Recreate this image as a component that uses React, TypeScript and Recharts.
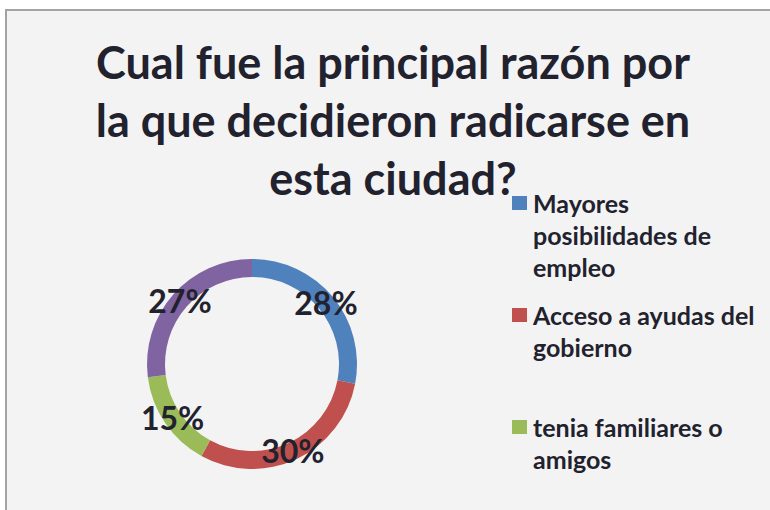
import React from 'react';
import { PieChart, Pie, Cell, Legend } from 'recharts';

const TITLE_LINES = ['Cual fue la principal razón por', 'la que decidieron radicarse en', 'esta ciudad?'];
// legend text keeps the line breaks of the original
const REASONS = [
  'Mayores\nposibilidades de\nempleo',
  'Acceso a ayudas del\ngobierno',
  'tenia familiares o\namigos',
  'Otros',
];
const SHARES = [28, 30, 15, 27];
const COLORS = ['#4f81bd', '#c0504d', '#9bbb59', '#8064a2'];
// only the first three legend entries fit in the visible area
const LEGEND_VISIBLE = 3;

const data = REASONS.map((name, i) => ({ name, value: SHARES[i] }));

const FONT = 'Lato, "Open Sans", sans-serif';
const TEXT = '#22222e';
const RAD = Math.PI / 180;

function renderLabel(props: any) {
  const { cx, cy, midAngle, innerRadius, outerRadius, percent } = props;
  const r = (innerRadius + outerRadius) / 2;
  const x = cx + r * Math.cos(-midAngle * RAD);
  const y = cy + r * Math.sin(-midAngle * RAD);
  return (
    <text
      x={x}
      y={y}
      textAnchor="middle"
      dominantBaseline="central"
      fill={TEXT}
      fontFamily={FONT}
      fontWeight={700}
      fontSize={32}
    >
      {`${Math.round(percent * 100)}%`}
    </text>
  );
}

function LegendContent() {
  return (
    <div style={{ fontFamily: FONT, fontWeight: 700, fontSize: 25, lineHeight: '32px', color: TEXT }}>
      {data.slice(0, LEGEND_VISIBLE).map((d, i) => (
        <div key={d.name} style={{ position: 'relative', height: 112, paddingLeft: 23 }}>
          <span
            style={{
              position: 'absolute',
              left: 2,
              top: 9,
              width: 15,
              height: 14,
              background: COLORS[i],
            }}
          />
          <div style={{ whiteSpace: 'pre-line' }}>{d.name}</div>
        </div>
      ))}
    </div>
  );
}

export default function App() {
  return (
    <div
      style={{
        position: 'absolute',
        left: 0,
        top: 0,
        width: 770,
        height: 510,
        background: '#fff',
        overflow: 'hidden',
      }}
    >
      <div
        style={{
          position: 'absolute',
          left: 5,
          top: 9,
          width: 800,
          height: 540,
          border: '2px solid #a3a3a3',
          background: '#f3f3f3',
        }}
      />
      <div
        style={{
          position: 'absolute',
          left: 0,
          top: 33,
          width: 786,
          textAlign: 'center',
          fontFamily: FONT,
          fontWeight: 700,
          fontSize: 45,
          lineHeight: '58px',
          color: TEXT,
        }}
      >
        {TITLE_LINES.map((l) => (
          <div key={l}>{l}</div>
        ))}
      </div>
      <div style={{ position: 'absolute', left: 0, top: 0 }}>
        <PieChart width={770} height={510} margin={{ top: 0, right: 0, bottom: 0, left: 0 }}>
          <Pie
            data={data}
            dataKey="value"
            nameKey="name"
            cx={252}
            cy={364}
            innerRadius={87}
            outerRadius={105}
            startAngle={90}
            endAngle={-270}
            stroke="none"
            label={renderLabel}
            labelLine={false}
            isAnimationActive={false}
          >
            {data.map((d, i) => (
              <Cell key={d.name} fill={COLORS[i]} />
            ))}
          </Pie>
          <Legend
            content={<LegendContent />}
            wrapperStyle={{ position: 'absolute', left: 510, top: 187, width: 250, bottom: 'auto' }}
          />
        </PieChart>
      </div>
    </div>
  );
}
